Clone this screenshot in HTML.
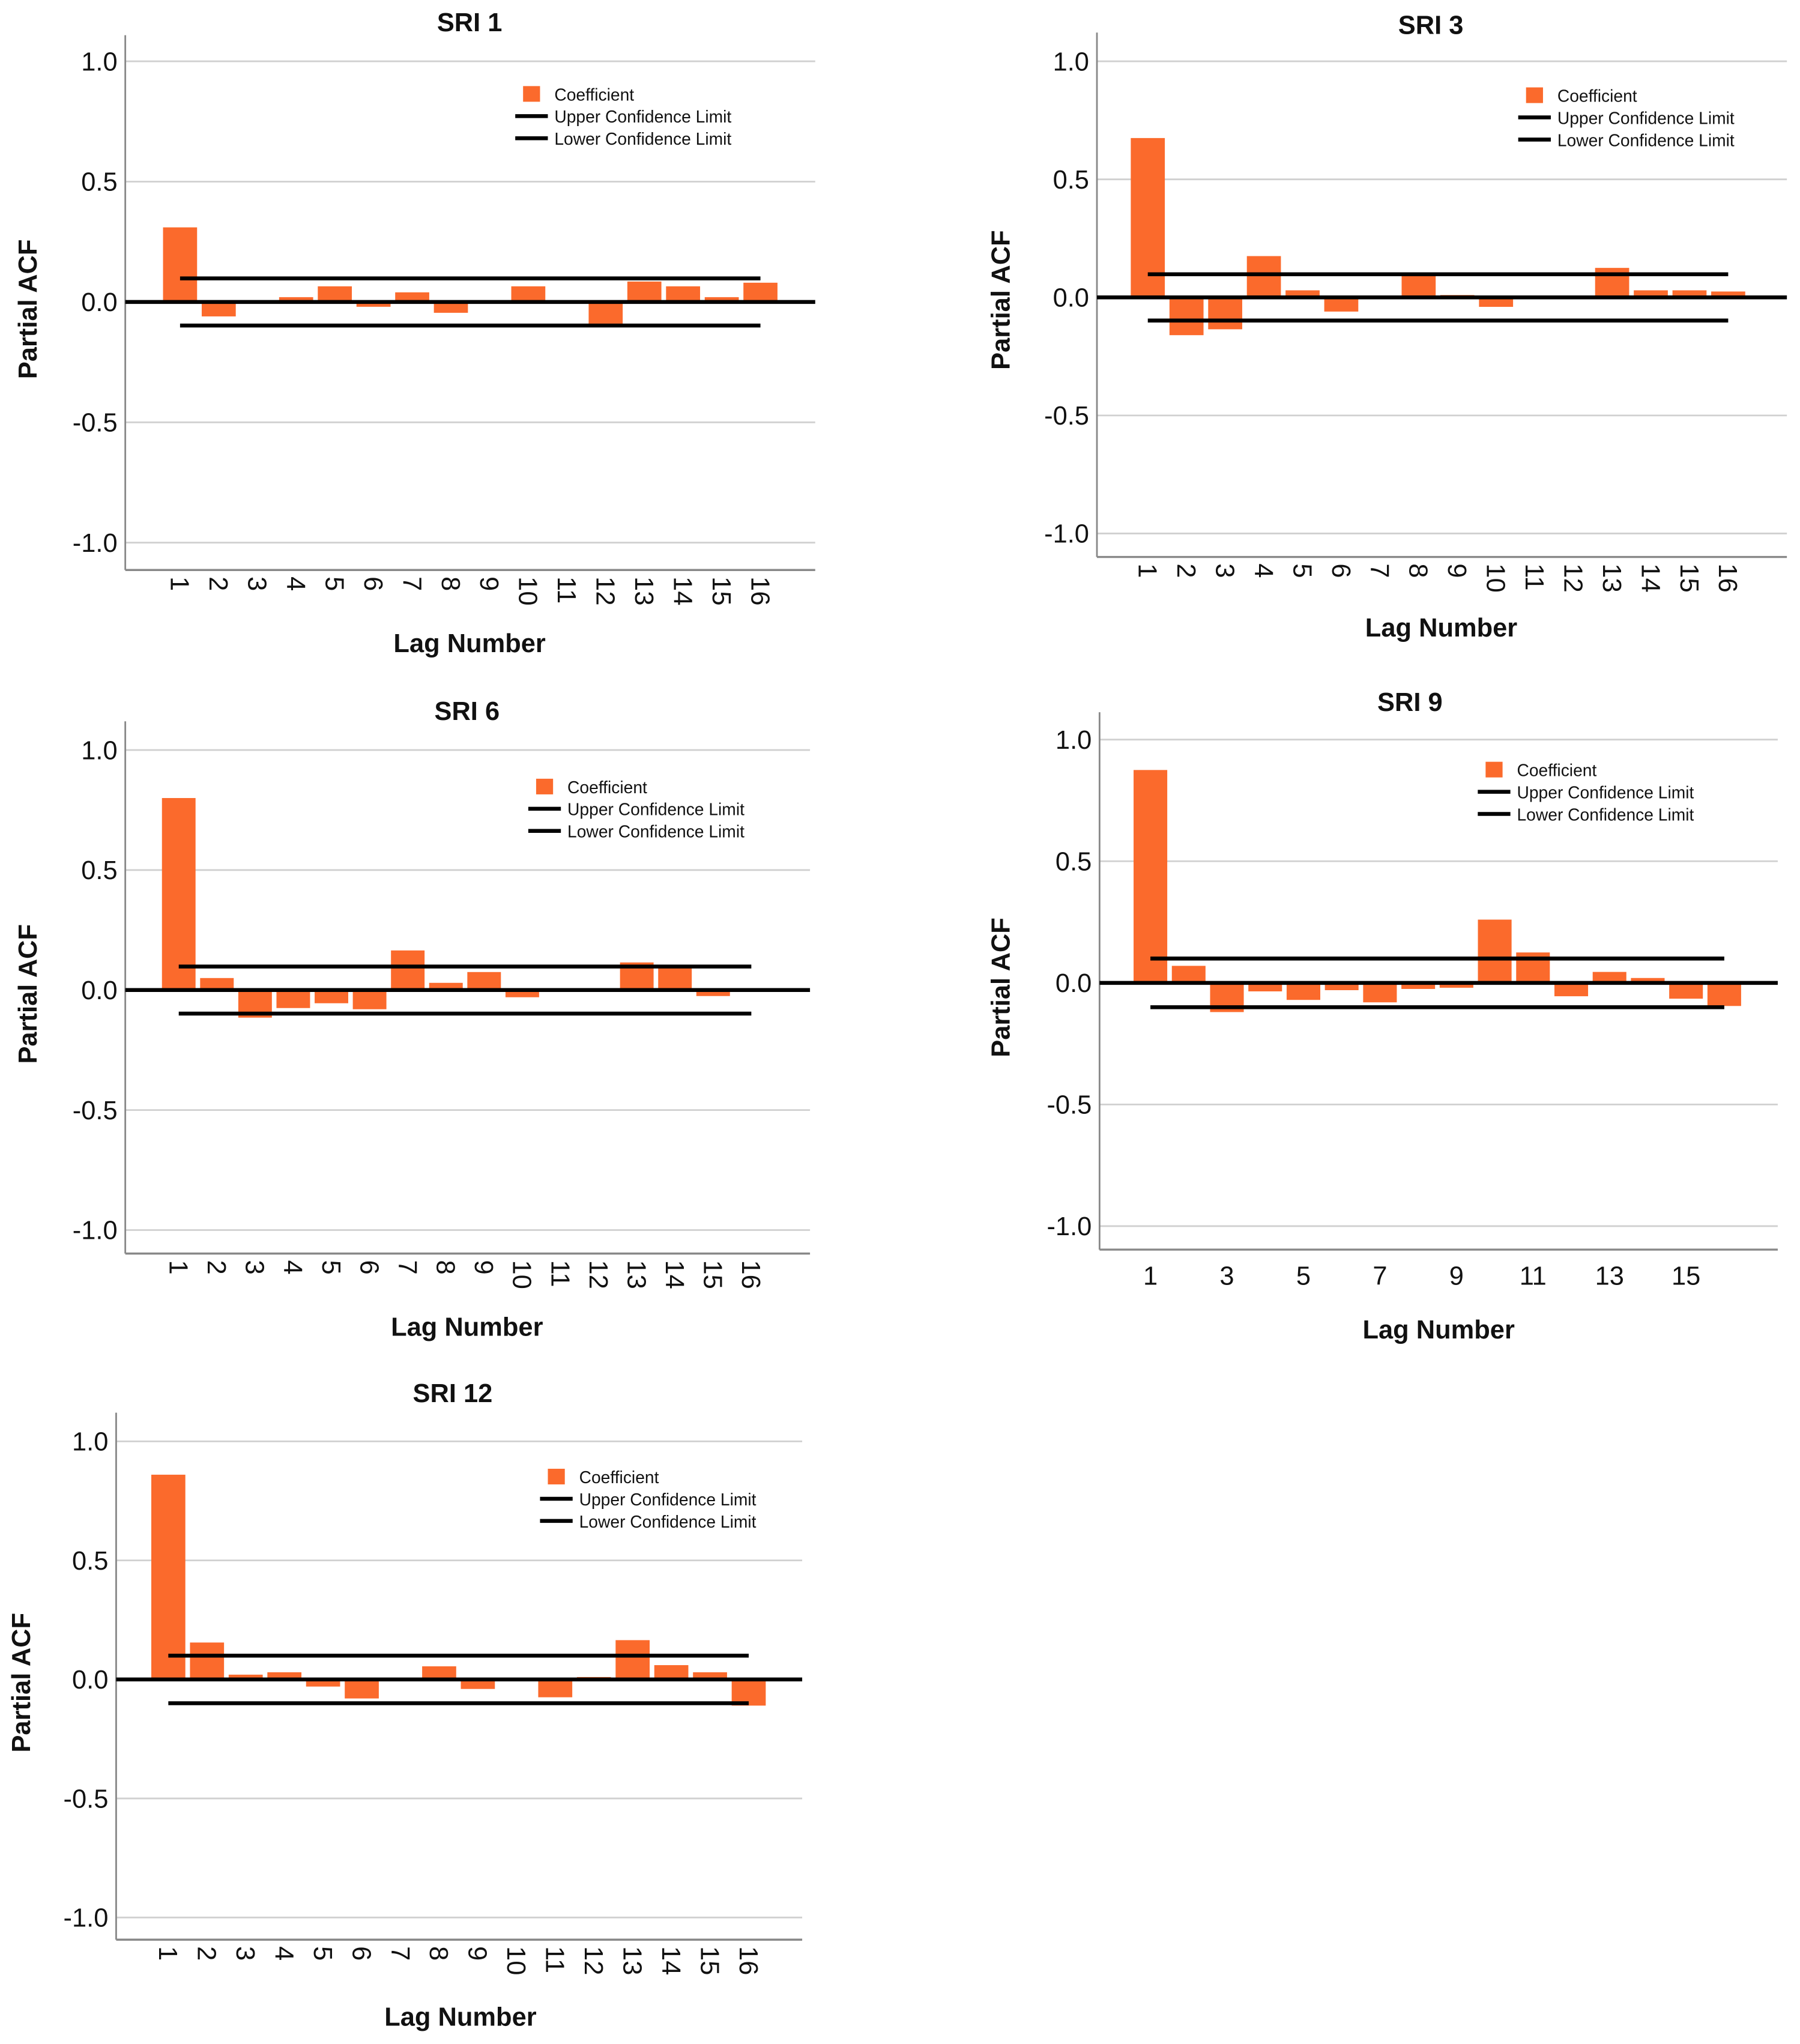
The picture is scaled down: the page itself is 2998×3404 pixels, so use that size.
<!DOCTYPE html>
<html><head><meta charset="utf-8"><style>
html,body{margin:0;padding:0;background:#fff;}
svg{display:block;}
text{font-family:"Liberation Sans",Arial,sans-serif;fill:#111;}
</style></head><body>
<svg id="fig" width="2998" height="3404" viewBox="0 0 1380 1567" xmlns="http://www.w3.org/2000/svg"></svg>
<script>
const lags = [1,2,3,4,5,6,7,8,9,10,11,12,13,14,15,16];
const yTicks = [1.0,0.5,0.0,-0.5,-1.0];
const yTickLabels = ["1.0","0.5","0.0","-0.5","-1.0"];
const legendLabels = ["Coefficient","Upper Confidence Limit","Lower Confidence Limit"];
const sri1Values = [0.31,-0.06,0.003,0.02,0.065,-0.02,0.04,-0.045,0.003,0.065,0.002,-0.09,0.085,0.065,0.02,0.08];
const sri3Values = [0.675,-0.16,-0.135,0.175,0.03,-0.06,-0.005,0.1,0.01,-0.04,0.002,0.002,0.125,0.03,0.03,0.025];
const sri6Values = [0.8,0.05,-0.115,-0.075,-0.055,-0.08,0.165,0.03,0.075,-0.03,-0.005,0.002,0.115,0.1,-0.025,0.002];
const sri9Values = [0.875,0.07,-0.12,-0.035,-0.07,-0.03,-0.08,-0.025,-0.02,0.26,0.125,-0.055,0.045,0.02,-0.065,-0.095];
const sri12Values = [0.86,0.155,0.02,0.03,-0.03,-0.08,0.002,0.055,-0.04,-0.005,-0.075,0.01,0.165,0.06,0.03,-0.11];
const confUpper = [0.098,0.098,0.098,0.1,0.1];
const confLower = [-0.098,-0.098,-0.098,-0.1,-0.1];
const titles = ["SRI 1","SRI 3","SRI 6","SRI 9","SRI 12"];

const layouts = [
 {L:96,R:625,T:27,B:437,y1:47,ym1:416,x1:138,x16:583,tx:360,ty:24,lx:360,ly:500,ax:28,ay:237,leg:401,legY:72,rot:true},
 {L:841,R:1370,T:25,B:427,y1:47,ym1:409,x1:880,x16:1325,tx:1097,ty:26,lx:1105,ly:488,ax:774,ay:230,leg:1170,legY:73,rot:true},
 {L:96,R:621,T:553,B:961,y1:575,ym1:943,x1:137,x16:576,tx:358,ty:552,lx:358,ly:1024,ax:28,ay:762,leg:411,legY:603,rot:true},
 {L:843,R:1363,T:546,B:958,y1:567,ym1:940,x1:882,x16:1322,tx:1081,ty:545,lx:1103,ly:1026,ax:774,ay:757,leg:1139,legY:590,rot:false},
 {L:89,R:615,T:1083,B:1487,y1:1105,ym1:1470,x1:129,x16:574,tx:347,ty:1075,lx:353,ly:1553,ax:23,ay:1290,leg:420,legY:1132,rot:true}
];
const allValues = [sri1Values,sri3Values,sri6Values,sri9Values,sri12Values];
const NS="http://www.w3.org/2000/svg";
const svg=document.getElementById('fig');
function mk(tag,attrs,parent){const e=document.createElementNS(NS,tag);for(const k in attrs)e.setAttribute(k,attrs[k]);parent.appendChild(e);return e;}

allValues.forEach((vals,ci)=>{
  const g=layouts[ci];
  const grp=mk('g',{},svg);
  
  
  const yS=v=>g.y1+(1-v)*(g.ym1-g.y1)/2;
  const xS=l=>g.x1+(l-1)*(g.x16-g.x1)/15;
  // gridlines and y labels
  yTicks.forEach((t,i)=>{
    if(t!==0){const gl=mk('line',{x1:g.L,x2:g.R,y1:yS(t),y2:yS(t),stroke:'#d0d0d0','stroke-width':1.3},grp);
      
      }
    const tl=mk('text',{x:g.L-6,y:yS(t)+7,'text-anchor':'end','font-size':20},grp);
    
    
    tl.textContent=yTickLabels[i];
  });
  // axes
  const ya=mk('line',{x1:g.L,x2:g.L,y1:g.T,y2:g.B,stroke:'#888','stroke-width':1.3},grp);
  
  
  const xa=mk('line',{x1:g.L,x2:g.R,y1:g.B,y2:g.B,stroke:'#888','stroke-width':1.6},grp);
  
  
  // bars
  const bw=(g.x16-g.x1)/15*0.88;
  vals.forEach((v,i)=>{
    const x=xS(lags[i]);const y0=yS(0),yv=yS(v);
    const b=mk('rect',{x:x-bw/2,y:Math.min(y0,yv),width:bw,height:Math.max(Math.abs(yv-y0),0.5),fill:'#fb6a2c'},grp);
    
    
  });
  // zero line
  const z=mk('line',{x1:g.L,x2:g.R,y1:yS(0),y2:yS(0),stroke:'#000','stroke-width':3},grp);
  
  
  // conf limits
  [confUpper[ci],confLower[ci]].forEach((c,k)=>{
    const cl=mk('line',{x1:xS(1),x2:xS(16),y1:yS(c),y2:yS(c),stroke:'#000','stroke-width':3},grp);
    
    
  });
  // x tick labels
  lags.forEach(l=>{
    if(g.rot){
      const t=mk('text',{x:0,y:0,'font-size':20,transform:`translate(${xS(l)-7},${g.B+5}) rotate(90)`},grp);
      
      
      t.textContent=String(l);
    } else if(l%2===1){
      const t=mk('text',{x:xS(l),y:g.B+27,'font-size':20,'text-anchor':'middle'},grp);
      
      
      t.textContent=String(l);
    }
  });
  // titles
  const tt=mk('text',{x:g.tx,y:g.ty,'font-size':20,'font-weight':'bold','text-anchor':'middle'},grp);
  
  
  tt.textContent=titles[ci];
  const xt=mk('text',{x:g.lx,y:g.ly,'font-size':20,'font-weight':'bold','text-anchor':'middle'},grp);
  
  
  xt.textContent='Lag Number';
  const yt=mk('text',{x:0,y:0,'font-size':20,'font-weight':'bold','text-anchor':'middle',transform:`translate(${g.ax},${g.ay}) rotate(-90)`},grp);
  
  
  yt.textContent='Partial ACF';
  // legend
  const lg=mk('g',{},grp);
  
  
  const sq=mk('rect',{x:g.leg,y:g.legY-6,width:13,height:12,fill:'#fb6a2c'},lg);
  
  
  legendLabels.forEach((s,k)=>{
    const yy=g.legY+k*17;
    if(k>0){const ln=mk('line',{x1:g.leg-6,x2:g.leg+19,y1:yy,y2:yy,stroke:'#000','stroke-width':3},lg);
      
      }
    const t=mk('text',{x:g.leg+24,y:yy+5,'font-size':13},lg);
    
    
    t.textContent=s;
  });
});
</script>
</body></html>
